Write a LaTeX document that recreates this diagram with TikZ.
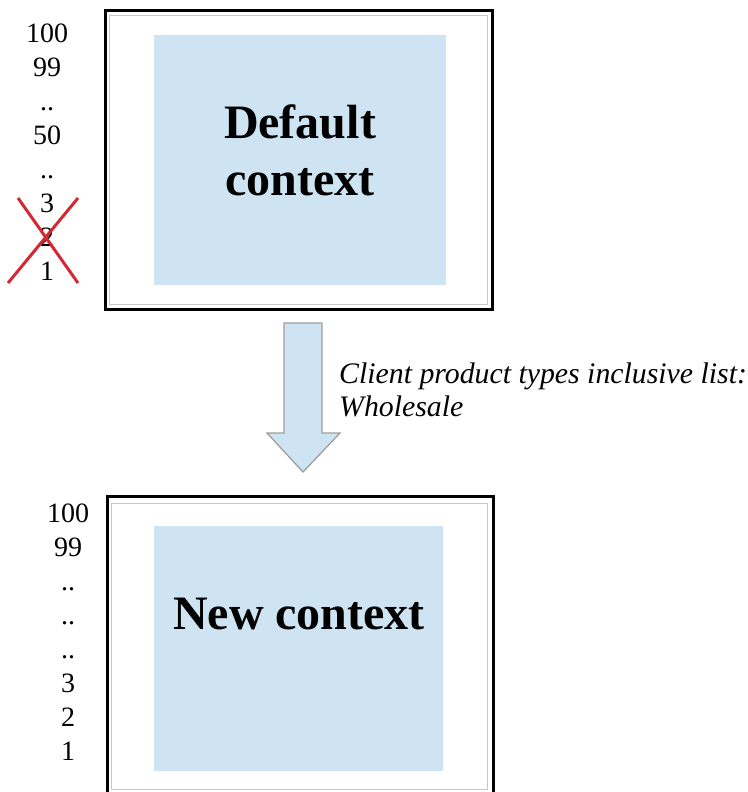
\documentclass[tikz,border=0pt]{standalone}
\usepackage{fontspec}
\setmainfont{Liberation Serif}
\begin{document}
\begin{tikzpicture}[x=1pt,y=-1pt,
  outerframe/.style={draw=black,line width=3pt,fill=white},
  innerframe/.style={draw=black!22,line width=1.5pt},
  ctxbox/.style={fill=ctxblue,draw=none},
  ctxtext/.style={font=\fontsize{48}{57}\selectfont\bfseries,align=center,inner sep=0pt},
  numcol/.style={font=\fontsize{28}{34}\selectfont,align=center,inner sep=0pt},
  cross/.style={draw=crossred,line width=3pt},
  label/.style={font=\fontsize{29.8}{33}\selectfont\itshape,align=left,inner sep=0pt}]
\definecolor{ctxblue}{RGB}{207,228,242}
\definecolor{crossred}{RGB}{212,40,52}
\useasboundingbox (0,0) rectangle (747,792);
% top context
\draw[outerframe] (105.5,10.5) rectangle (492.5,309.5);
\draw[innerframe] (109.5,15.5) rectangle (487.5,304.5);
\node[ctxbox,minimum width=292pt,minimum height=250pt,anchor=north west,inner sep=0pt] (top) at (154,35) {};
\node[ctxtext,anchor=base] (toptext) at (300,195) {Default\\context};
\node[numcol,anchor=base] (topnums) at (47,280) {100\\99\\..\\50\\..\\3\\2\\1};
\coordinate (x1a) at (8,283);
\coordinate (x1b) at (78,198);
\coordinate (x2a) at (18,198);
\coordinate (x2b) at (78,283);
\draw[cross] (x1a) -- (x1b);
\draw[cross] (x2a) -- (x2b);
% arrow
\draw[fill=ctxblue,draw=black!38,line width=1.3pt,line join=miter]
  (284,323) -- (322,323) -- (322,433) -- (340,433) -- (303,472) -- (267,433) -- (284,433) -- cycle;
\node[label,anchor=base west] (lbl) at (339,416) {Client product types inclusive list:\\Wholesale};
% bottom context
\draw[outerframe] (107.5,496.5) rectangle (493.5,810);
\draw[innerframe] (111.5,503.5) rectangle (487.5,789.5);
\node[ctxbox,minimum width=289pt,minimum height=245pt,anchor=north west,inner sep=0pt] (bot) at (154,526) {};
\node[ctxtext,anchor=base] (bottext) at (299,629) {New context};
\node[numcol,anchor=base] (botnums) at (68,760) {100\\99\\..\\..\\..\\3\\2\\1};
\end{tikzpicture}
\end{document}
